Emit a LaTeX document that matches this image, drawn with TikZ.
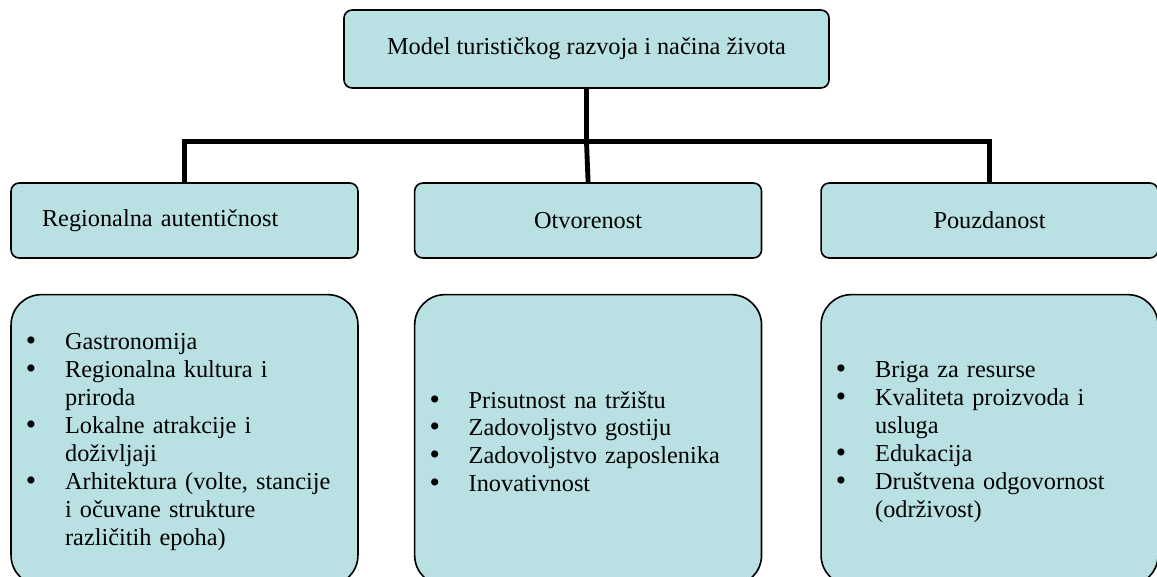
\documentclass[tikz,border=0pt,12pt]{standalone}
\usepackage{fontspec}
\setmainfont{Liberation Serif}
\newfontfamily\dotfont{DejaVu Sans}
\usepackage{enumitem}
\usetikzlibrary{positioning}
\definecolor{boxfill}{RGB}{185,224,227}
\newcommand{\dotmark}{\makebox[0pt]{\dotfont •}}
\setlist[itemize]{label=\dotmark, align=left, leftmargin=16.8pt, labelwidth=16.8pt, labelsep=0pt, labelindent=0pt, itemsep=0pt, topsep=0pt, parsep=0pt, partopsep=0pt}
\tikzstyle{topbox} = [rectangle, rounded corners=4pt, minimum width=239.5pt, minimum height=38.5pt, text centered, draw=black, line width=0.8pt, fill=boxfill]
\tikzstyle{header} = [rectangle, rounded corners=4pt, minimum width=171.3pt, minimum height=37pt, text centered, draw=black, line width=0.8pt, fill=boxfill]
\tikzstyle{listbox} = [rectangle, rounded corners=15pt, minimum width=171.3pt, minimum height=143.7pt, text width=151.5pt, inner xsep=9.9pt, draw=black, line width=0.8pt, fill=boxfill, execute at end node={\vspace{4pt}}]
\tikzstyle{link} = [line width=2.4pt]

\begin{document}
\begin{tikzpicture}[x=0.4938pt, y=-0.4938pt, font=\fontsize{12}{13.8}\selectfont]
\useasboundingbox (0,0) rectangle (1157,577);
\clip (0,0) rectangle (1157,577);

% Nodes
\node (model) [topbox] at (586.5,49) {Model turističkog razvoja i načina života};
\node (regional) [header, text width=140.7pt, align=left, inner xsep=15.3pt] at (184.5,220.5) {Regionalna autentičnost};
\node (open) [header, right=27.2pt of regional] {Otvorenost};
\node (reliab) [header, minimum width=166.4pt, right=28.6pt of open] {Pouzdanost};

\node (regionallist) [listbox, below=17.3pt of regional] {\begin{itemize}
\item Gastronomija
\item Regionalna kultura i\\ priroda
\item Lokalne atrakcije i\\ doživljaji
\item Arhitektura (volte, stancije\\ i očuvane strukture\\ različitih epoha)
\end{itemize}};
\node (openlist) [listbox, below=17.3pt of open] {\begin{itemize}
\item Prisutnost na tržištu
\item Zadovoljstvo gostiju
\item Zadovoljstvo zaposlenika
\item Inovativnost
\end{itemize}};
\node (reliablist) [listbox, minimum width=166.4pt, text width=146.6pt, below=17.3pt of reliab] {\begin{itemize}
\item Briga za resurse
\item Kvaliteta proizvoda i\\ usluga
\item Edukacija
\item Društvena odgovornost\\ (održivost)
\end{itemize}};

% Connectors
\draw [link] (model.south) -- ++(0,53) coordinate (hub);
\draw [link] (regional.north) |- (hub) -| (reliab.north);
\draw [link] (hub) -- (open.north);

\end{tikzpicture}
\end{document}
